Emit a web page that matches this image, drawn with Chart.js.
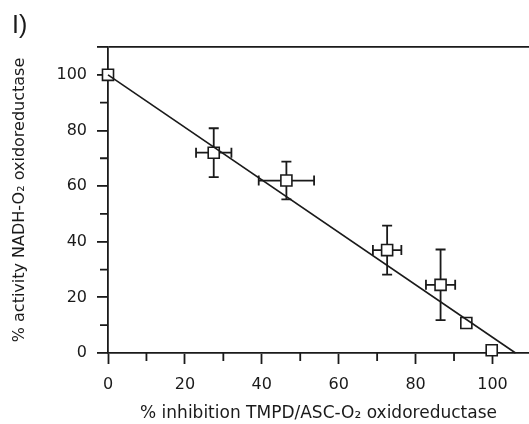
<!DOCTYPE html>
<html>
<head>
<meta charset="utf-8">
<script src="https://cdn.jsdelivr.net/npm/chart.js@4"></script>
<style>
  body { margin: 0; background: #fff; }
  #wrap { width: 529px; height: 424px; position: relative; }
</style>
</head>
<body>
<div id="wrap"><canvas id="myChart"></canvas></div>
<script>
// data
const xVals = [0, 27.5, 46.4, 72.6, 86.5, 93.2, 99.8];
const yVals = [100, 72, 62, 37, 24.5, 10.8, 1];
const xErr = [0, 4.6, 7.2, 3.7, 3.8, 0, 0];
const yErr = [0, 8.8, 6.8, 8.8, 12.7, 0, 0];
const fitX = [0, 106];
const fitY = [100, 0];
const xTicks = [0, 20, 40, 60, 80, 100];
const yTicks = [0, 20, 40, 60, 80, 100];

const FONT = "'DejaVu Sans', 'Liberation Sans', sans-serif";
const INK = '#1a1a1a';

// error bars + minor ticks + panel label
const extras = {
  id: 'extras',
  beforeDatasetDraw(chart, args) {
    if (args.index !== 1) return;
    const ctx = chart.ctx;
    const xs = chart.scales.x, ys = chart.scales.y;
    ctx.save();
    ctx.strokeStyle = INK;
    ctx.lineWidth = 1.8;
    const cap = 5;
    for (let i = 0; i < xVals.length; i++) {
      const px = xs.getPixelForValue(xVals[i]);
      const py = ys.getPixelForValue(yVals[i]);
      if (yErr[i] > 0) {
        const t = ys.getPixelForValue(yVals[i] + yErr[i]);
        const b = ys.getPixelForValue(yVals[i] - yErr[i]);
        ctx.beginPath();
        ctx.moveTo(px, t); ctx.lineTo(px, b);
        ctx.moveTo(px - cap, t); ctx.lineTo(px + cap, t);
        ctx.moveTo(px - cap, b); ctx.lineTo(px + cap, b);
        ctx.stroke();
      }
      if (xErr[i] > 0) {
        const l = xs.getPixelForValue(xVals[i] - xErr[i]);
        const r = xs.getPixelForValue(xVals[i] + xErr[i]);
        ctx.beginPath();
        ctx.moveTo(l, py); ctx.lineTo(r, py);
        ctx.moveTo(l, py - cap); ctx.lineTo(l, py + cap);
        ctx.moveTo(r, py - cap); ctx.lineTo(r, py + cap);
        ctx.stroke();
      }
    }
    ctx.restore();
  },
  afterDraw(chart) {
    const ctx = chart.ctx;
    const xs = chart.scales.x, ys = chart.scales.y;
    const area = chart.chartArea;
    ctx.save();
    ctx.strokeStyle = INK;
    ctx.lineWidth = 1.8;
    ctx.beginPath();
    for (let v = 10; v <= 100; v += 20) {
      const px = xs.getPixelForValue(v);
      ctx.moveTo(px, area.bottom); ctx.lineTo(px, area.bottom + 8);
      const py = ys.getPixelForValue(v);
      ctx.moveTo(area.left, py); ctx.lineTo(area.left - 8, py);
    }
    ctx.stroke();
    ctx.fillStyle = INK;
    ctx.font = "25px 'Liberation Sans', Arial, sans-serif";
    ctx.textBaseline = 'alphabetic';
    ctx.fillText('I)', 12, 33);
    ctx.restore();
  }
};

const config = {
  type: 'scatter',
  data: {
    datasets: [{
      type: 'line',
      data: fitX.map((x, i) => ({ x: x, y: fitY[i] })),
      borderColor: INK,
      borderWidth: 1.6,
      pointRadius: 0,
      fill: false,
      clip: false
    }, {
      data: xVals.map((x, i) => ({ x: x, y: yVals[i] })),
      pointStyle: 'rect',
      pointRadius: 7.8,
      backgroundColor: '#fff',
      borderColor: INK,
      borderWidth: 1.6,
      clip: false
    }]
  },
  options: {
    responsive: true,
    maintainAspectRatio: false,
    animation: false,
    layout: { autoPadding: false, padding: { top: 47, right: 0, left: 0, bottom: 0 } },
    plugins: { legend: { display: false }, tooltip: { enabled: false } },
    scales: {
      x: {
        type: 'linear',
        min: 0, max: 109.5,
        afterBuildTicks: s => { s.ticks = xTicks.map(v => ({ value: v })); },
        afterFit: s => { s.height = 71; s.paddingRight = 0; s.paddingLeft = 0; },
        border: { color: INK, width: 1.8 },
        grid: { drawOnChartArea: false, tickLength: 11, tickColor: INK, tickWidth: 1.8 },
        ticks: { color: INK, font: { family: FONT, size: 16 }, padding: 11, maxRotation: 0, autoSkip: false },
        title: {
          display: true,
          text: '% inhibition TMPD/ASC-O\u2082 oxidoreductase',
          color: INK,
          font: { family: FONT, size: 17 },
          padding: { top: 1, bottom: 0 }
        }
      },
      y: {
        type: 'linear',
        min: 0, max: 110,
        afterBuildTicks: s => { s.ticks = yTicks.concat([110]).map(v => ({ value: v })); },
        afterFit: s => { s.width = 108; },
        border: { color: INK, width: 1.8 },
        grid: {
          drawOnChartArea: true,
          color: c => (c.tick && c.tick.value === 110) ? INK : 'rgba(0,0,0,0)',
          lineWidth: 1.8,
          tickLength: 11,
          tickColor: INK,
          tickWidth: 1.8
        },
        ticks: {
          color: INK,
          font: { family: FONT, size: 16 },
          padding: 10,
          callback: v => v === 110 ? '' : v
        },
        title: {
          display: true,
          text: '% activity NADH-O\u2082 oxidoreductase',
          color: INK,
          font: { family: FONT, size: 16 },
          padding: { top: 10, bottom: 0 }
        }
      }
    }
  },
  plugins: [extras]
};

const myChart = new Chart(document.getElementById('myChart'), config);
</script>
</body>
</html>
